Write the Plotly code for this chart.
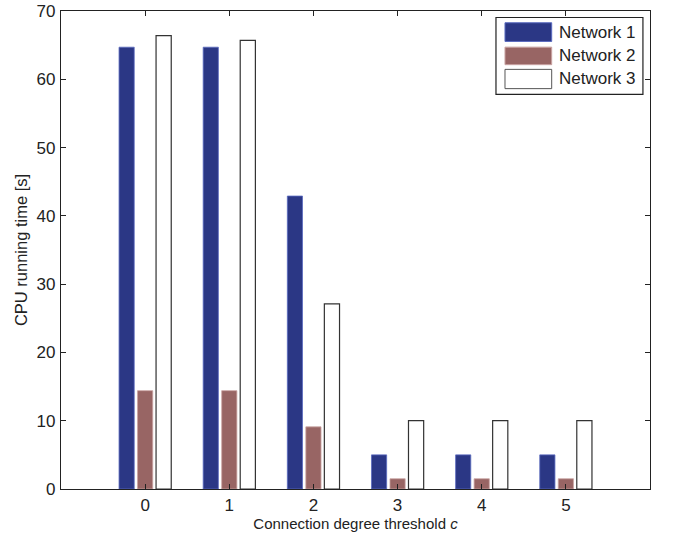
import plotly.graph_objects as go

categories = [0, 1, 2, 3, 4, 5]
network1 = [64.7, 64.7, 42.9, 5.0, 5.0, 5.0]
network2 = [14.4, 14.4, 9.1, 1.5, 1.5, 1.5]
network3 = [66.4, 65.7, 27.1, 10.0, 10.0, 10.0]
series_names = ["Network 1", "Network 2", "Network 3"]
y_ticks = [0, 10, 20, 30, 40, 50, 60, 70]

font_family = "Liberation Sans, Arial, Helvetica, sans-serif"
fills = ["#2B3785", "#986564", "#FFFFFF"]
edges = ["#5A6BC0", "#C9A3A2", "#333333"]
edge_w = [0.8, 0.8, 1.2]

fig = go.Figure()
for name, vals, fc, ec, ew in zip(series_names, [network1, network2, network3], fills, edges, edge_w):
    fig.add_trace(go.Bar(x=categories, y=vals, name=name,
                         marker=dict(color=fc, line=dict(color=ec, width=ew))))

# custom legend (wide swatches as in the reference)
legend_box = dict(x0=0.7385, x1=0.988, y0=0.8257, y1=0.9864)
sw_x0, sw_x1 = 0.7538, 0.8331
sw_rows = [(0.9363, 0.9754), (0.8877, 0.9244), (0.8376, 0.8779)]
shapes = [dict(type="rect", xref="paper", yref="paper", **legend_box,
               line=dict(color="#222222", width=1.2), fillcolor="white", layer="above")]
annotations = []
for (y0, y1), name, fc, ec in zip(sw_rows, series_names, fills, ["#5A6BC0", "#C9A3A2", "#555555"]):
    shapes.append(dict(type="rect", xref="paper", yref="paper", x0=sw_x0, x1=sw_x1, y0=y0, y1=y1,
                       fillcolor=fc, line=dict(color=ec, width=1), layer="above"))
    annotations.append(dict(xref="paper", yref="paper", x=0.8426, y=(y0 + y1) / 2,
                            xanchor="left", yanchor="middle", showarrow=False, text=name,
                            font=dict(size=17, family=font_family, color="#222222")))

fig.update_layout(
    width=673, height=533,
    margin=dict(l=61, r=23, t=11, b=44, autoexpand=False),
    paper_bgcolor="white", plot_bgcolor="white",
    barmode="group", bargap=0.34, bargroupgap=0.18,
    font=dict(family=font_family, color="#222222"),
    showlegend=False,
    shapes=shapes, annotations=annotations,
    xaxis=dict(range=[-1, 6], tickmode="array", tickvals=categories,
               ticktext=[str(c) for c in categories],
               ticks="inside", ticklen=5, tickcolor="#222222", ticklabelstandoff=0,
               ticklabeloverflow="allow",
               showline=True, linecolor="#222222", linewidth=1.2, mirror="allticks",
               showgrid=False, zeroline=False,
               tickfont=dict(size=17),
               title=dict(text="Connection degree threshold <i>c</i>", font=dict(size=15), standoff=2)),
    yaxis=dict(range=[0, 70], tickmode="array", tickvals=y_ticks,
               ticks="inside", ticklen=5, tickcolor="#222222", ticklabelstandoff=1,
               ticklabeloverflow="allow",
               showline=True, linecolor="#222222", linewidth=1.2, mirror="allticks",
               showgrid=False, zeroline=False,
               tickfont=dict(size=17),
               title=dict(text="CPU running time [s]", font=dict(size=16.5), standoff=4)),
)

fig.write_html("out.html", config={"displayModeBar": False},
               post_script="document.body.style.margin='0';")
